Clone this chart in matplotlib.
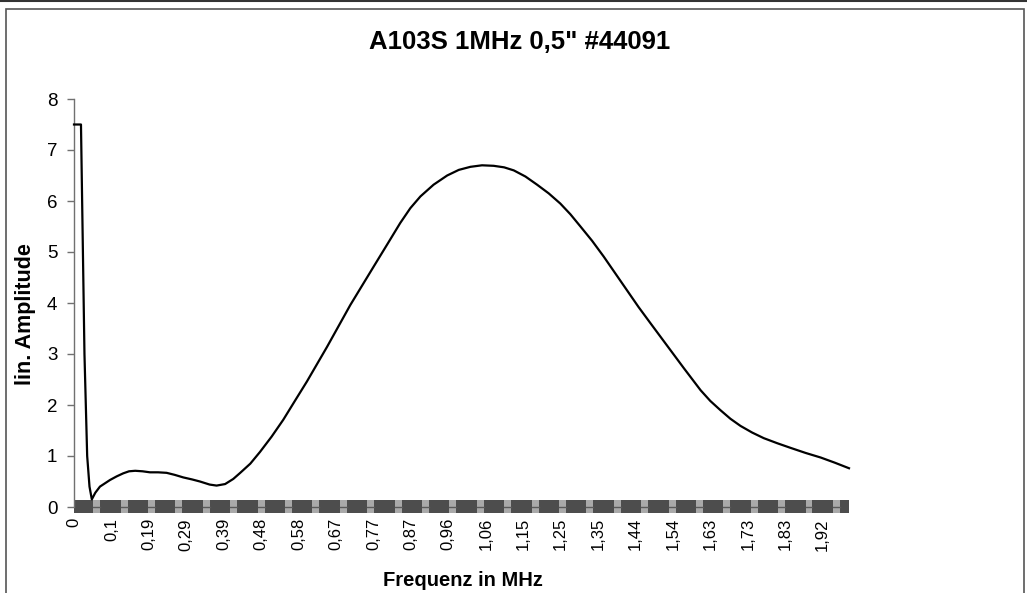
import numpy as np
import matplotlib
matplotlib.use("Agg")
import matplotlib.pyplot as plt
from matplotlib.lines import Line2D
from matplotlib.patches import Rectangle

# DATA -----------------------------------------------------------------------+
freq = [0.000, 0.018, 0.023, 0.027, 0.034, 0.040, 0.046, 0.055, 0.067, 0.093,
        0.110, 0.127, 0.142, 0.158, 0.177, 0.196, 0.217, 0.239, 0.260, 0.282,
        0.305, 0.325, 0.350, 0.368, 0.390, 0.411, 0.429, 0.455, 0.480, 0.510,
        0.540, 0.570, 0.601, 0.653, 0.713, 0.773, 0.810, 0.842, 0.868, 0.894,
        0.928, 0.963, 0.993, 1.023, 1.053, 1.083, 1.110, 1.135, 1.165, 1.195,
        1.225, 1.255, 1.281, 1.307, 1.337, 1.367, 1.397, 1.427, 1.457, 1.488,
        1.530, 1.574, 1.596, 1.617, 1.642, 1.668, 1.694, 1.720, 1.750, 1.780,
        1.815, 1.849, 1.888, 1.927, 1.963, 2.000]
amp = [7.50, 7.50, 5.00, 3.00, 1.00, 0.40, 0.15, 0.28, 0.40, 0.53,
       0.60, 0.66, 0.70, 0.71, 0.70, 0.68, 0.68, 0.67, 0.63, 0.58,
       0.54, 0.50, 0.44, 0.42, 0.45, 0.55, 0.67, 0.85, 1.08, 1.38,
       1.71, 2.08, 2.46, 3.14, 3.96, 4.71, 5.17, 5.57, 5.86, 6.09,
       6.32, 6.50, 6.61, 6.67, 6.70, 6.69, 6.66, 6.60, 6.48, 6.32,
       6.15, 5.95, 5.74, 5.50, 5.22, 4.91, 4.58, 4.25, 3.92, 3.60,
       3.17, 2.72, 2.50, 2.29, 2.08, 1.90, 1.73, 1.59, 1.46, 1.35,
       1.25, 1.16, 1.06, 0.97, 0.87, 0.76]

# category labels shown on the x axis (every n-th frequency bin)
tick_step = 0.0966
tick_labels = ['0', '0,1', '0,19', '0,29', '0,39', '0,48', '0,58', '0,67',
               '0,77', '0,87', '0,96', '1,06', '1,15', '1,25', '1,35', '1,44',
               '1,54', '1,63', '1,73', '1,83', '1,92']
y_ticks = [0, 1, 2, 3, 4, 5, 6, 7, 8]

title = 'A103S 1MHz 0,5" #44091'
xlabel = 'Frequenz in MHz'
ylabel = 'lin. Amplitude'

# FIGURE ---------------------------------------------------------------------+
plt.rcParams['font.family'] = ['Liberation Sans', 'DejaVu Sans']

W, H = 1027, 593
fig = plt.figure(figsize=(W / 100, H / 100), dpi=100)
fig.patch.set_facecolor('white')
ax = fig.add_axes([74 / W, 1 - 507 / H, 775 / W, 408 / H])

ax.plot(freq, amp, color='black', lw=1.6, clip_on=False, zorder=3,
        solid_joinstyle='round')

ax.set_xlim(0, 2.0)
ax.set_ylim(0, 8)

# thick patterned category axis
ax.fill_between([0, 2.0], -0.12, 0.13, color='#4d4d4d', lw=0,
                clip_on=False, zorder=2)
for xp in np.arange(0.0586, 2.0, 0.0707):
    ax.add_patch(Rectangle((xp - 0.009, -0.12), 0.018, 0.25,
                           facecolor='#a9a9a9', lw=0, clip_on=False, zorder=2))
    ax.plot([xp - 0.009, xp + 0.009], [0.005, 0.005], color='#5a5a5a',
            lw=1, clip_on=False, zorder=2)

# axes styling
for s in ['top', 'right', 'bottom']:
    ax.spines[s].set_visible(False)
ax.spines['left'].set_color('#707070')
ax.spines['left'].set_linewidth(1)

ax.set_yticks(y_ticks)
ax.tick_params(axis='y', length=5, width=1, color='#707070', pad=7,
               labelsize=13.5)
ax.set_xticks([i * tick_step for i in range(len(tick_labels))])
ax.set_xticklabels(tick_labels, rotation=90, fontsize=12)
ax.tick_params(axis='x', length=0, pad=8)

fig.text(520 / W, 1 - 42 / H, title, ha='center', va='center',
         fontsize=18.5, fontweight='bold')
fig.text(463 / W, 1 - 581 / H, xlabel, ha='center', va='center',
         fontsize=14.5, fontweight='bold')
fig.text(26 / W, 1 - 314 / H, ylabel, ha='center', va='center',
         rotation=90, fontsize=15.5, fontweight='bold')

# chart frame and scan edge
fig.add_artist(Rectangle((6 / W, -0.05), 1018 / W, 1 - 9 / H + 0.05,
                         transform=fig.transFigure, fill=False,
                         edgecolor='#555555', lw=1.2))
fig.add_artist(Line2D([0, 1], [1 - 1 / H, 1 - 1 / H], transform=fig.transFigure,
                      color='#333333', lw=1.5))

fig.savefig('out.png', dpi=100)
